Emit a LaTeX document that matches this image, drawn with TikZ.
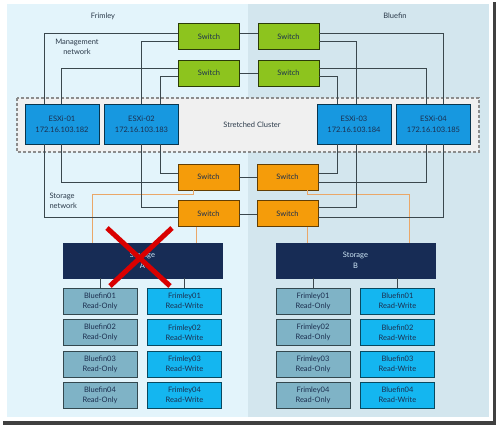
\documentclass[tikz,border=0pt]{standalone}
\usepackage{fontspec}
\setmainfont{Lato}
\usepackage{tikz}
\definecolor{frimleybg}{HTML}{E3F4FB}
\definecolor{bluefinbg}{HTML}{D3E6EE}
\definecolor{mgmtgreen}{HTML}{8DC41E}
\definecolor{esxblue}{HTML}{1798E0}
\definecolor{stororange}{HTML}{F59C0A}
\definecolor{stornavy}{HTML}{172C55}
\definecolor{lunro}{HTML}{7FB3C6}
\definecolor{lunrw}{HTML}{14B6F0}
\definecolor{wiregray}{HTML}{3A474D}
\definecolor{wireorange}{HTML}{EAA768}
\definecolor{labeltext}{HTML}{2B3A4A}
\definecolor{boxtext}{HTML}{1C2F4F}
\newcommand{\boxfont}[0]{\fontsize{7.5}{10}\selectfont}

\begin{document}
\begin{tikzpicture}[x=1pt, y=-1pt, font=\boxfont]
  \tikzset{box/.style={draw, line width=0.7pt, align=center, inner sep=0pt, text=boxtext},
    mgmtswitch/.style={box, fill=mgmtgreen, draw=black!70!mgmtgreen, minimum width=61pt, minimum height=26pt},
    storswitch/.style={box, fill=stororange, draw=black!60!stororange, minimum width=61pt, minimum height=26pt},
    host/.style={box, fill=esxblue, draw=black!65!esxblue, minimum width=74pt, minimum height=40pt, font=\fontsize{7.5}{11}\selectfont},
    array/.style={box, fill=stornavy, draw=stornavy, text=white!80!esxblue, minimum width=159pt, minimum height=35pt, font=\fontsize{7.5}{11}\selectfont},
    lunread/.style={box, fill=lunro, draw=black!60!lunro, minimum width=74pt, minimum height=26pt},
    lunwrite/.style={box, fill=lunrw, draw=black!60!lunrw, minimum width=74pt, minimum height=26pt},
    wire/.style={draw=wiregray, line width=0.8pt},
    orangewire/.style={draw=wireorange, line width=0.8pt},
    site/.style={text=labeltext, align=center}}
  \useasboundingbox (0,0) rectangle (499,427);
  \fill[white] (0,0) rectangle (499,427);
  \fill[black!75] (492.5,2) rectangle (496,425);
  \fill[black!75] (3,421.5) rectangle (496,425);
  \fill[frimleybg] (7,4) rectangle (248,417);
  \fill[bluefinbg] (248,4) rectangle (489,417);
  \node[site] (SITE-1) at (103,16) {Frimley};
  \node[site] (SITE-2) at (395,16) {Bluefin};
  \node[site] (NET-1) at (77,47) {Management\\network};
  \node[site, align=left, anchor=west] (NET-2) at (46,201) {Storage\\network};
  \draw[fill=black!6, draw=black!45, line width=1.1pt, dash pattern=on 3pt off 2pt] (17,98) rectangle (479,152);
  \node[text=labeltext] (CLUSTER) at (252,125) {Stretched Cluster};

  \node[mgmtswitch] (SW-1-1) at (209,36.5) {Switch};
  \node[mgmtswitch] (SW-1-2) at (288.5,36.5) {Switch};
  \node[mgmtswitch] (SW-2-1) at (209,73) {Switch};
  \node[mgmtswitch] (SW-2-2) at (288.5,73) {Switch};
  \node[host] (ESX-1) at (62,124) {ESXi-01\\172.16.103.182};
  \node[host] (ESX-2) at (141.5,124) {ESXi-02\\172.16.103.183};
  \node[host] (ESX-3) at (354,124) {ESXi-03\\172.16.103.184};
  \node[host] (ESX-4) at (433.5,124) {ESXi-04\\172.16.103.185};
  \node[storswitch] (SW-3-1) at (208.5,177) {Switch};
  \node[storswitch] (SW-3-2) at (287.5,177) {Switch};
  \node[storswitch] (SW-4-1) at (208.5,213.5) {Switch};
  \node[storswitch] (SW-4-2) at (287.5,213.5) {Switch};
  \node[array] (STOR-A) at (142.5,260.5) {Storage\\A};
  \node[array] (STOR-B) at (355.5,260.5) {Storage\\B};

  \node[lunread] (LUN-A-1-1) at (100,301) {Bluefin01\\Read-Only};
  \node[lunwrite] (LUN-A-1-2) at (184.5,301) {Frimley01\\Read-Write};
  \node[lunread] (LUN-A-2-1) at (100,332.5) {Bluefin02\\Read-Only};
  \node[lunwrite] (LUN-A-2-2) at (184.5,332.5) {Frimley02\\Read-Write};
  \node[lunread] (LUN-A-3-1) at (100,364) {Bluefin03\\Read-Only};
  \node[lunwrite] (LUN-A-3-2) at (184.5,364) {Frimley03\\Read-Write};
  \node[lunread] (LUN-A-4-1) at (100,395) {Bluefin04\\Read-Only};
  \node[lunwrite] (LUN-A-4-2) at (184.5,395) {Frimley04\\Read-Write};
  \node[lunread] (LUN-B-1-1) at (313,301) {Frimley01\\Read-Only};
  \node[lunwrite] (LUN-B-1-2) at (397.5,301) {Bluefin01\\Read-Write};
  \node[lunread] (LUN-B-2-1) at (313,332.5) {Frimley02\\Read-Only};
  \node[lunwrite] (LUN-B-2-2) at (397.5,332.5) {Bluefin02\\Read-Write};
  \node[lunread] (LUN-B-3-1) at (313,364) {Frimley03\\Read-Only};
  \node[lunwrite] (LUN-B-3-2) at (397.5,364) {Bluefin03\\Read-Write};
  \node[lunread] (LUN-B-4-1) at (313,395) {Frimley04\\Read-Only};
  \node[lunwrite] (LUN-B-4-2) at (397.5,395) {Bluefin04\\Read-Write};

  \draw[wire] ([yshift=3.5pt]SW-1-1.west) -| ([xshift=-18pt]ESX-1.north);
  \draw[wire] ([yshift=-4.5pt]SW-1-1.west) -| (ESX-2.north);
  \draw[wire] ([yshift=5pt]SW-2-1.west) -| ([xshift=-1pt]ESX-1.north);
  \draw[wire] ([yshift=-3pt]SW-2-1.west) -| ([xshift=18.5pt]ESX-2.north);
  \draw[wire] ([yshift=3.5pt]SW-1-2.east) -| ([xshift=9.5pt]ESX-4.north);
  \draw[wire] ([yshift=-4.5pt]SW-1-2.east) -| ([xshift=2pt]ESX-3.north);
  \draw[wire] ([yshift=5pt]SW-2-2.east) -| ([xshift=-7.5pt]ESX-4.north);
  \draw[wire] ([yshift=-3pt]SW-2-2.east) -| ([xshift=-17pt]ESX-3.north);
  \draw[wire] ([yshift=3.5pt]SW-1-1.east) -- ([yshift=3.5pt]SW-1-2.west);
  \draw[wire] (SW-2-1.east) -- (SW-2-2.west);

  \draw[orangewire] ([xshift=-15.5pt]SW-3-1.south) -- ++(0,4) -| ([xshift=-50.5pt]STOR-A.north);
  \draw[orangewire] ([xshift=-12.5pt]SW-4-1.south) -- ([xshift=-12.5pt]SW-4-1.south |- STOR-A.north);
  \draw[orangewire] ([xshift=19.5pt]SW-3-2.south) -- ++(0,4) -| ([xshift=53.5pt]STOR-B.north);
  \draw[orangewire] ([xshift=19.5pt]SW-4-2.south) -- ([xshift=19.5pt]SW-4-2.south |- STOR-B.north);

  \draw[wire] ([xshift=-18pt]ESX-1.south) |- ([yshift=-3.5pt]SW-4-1.west);
  \draw[wire] ([xshift=-1pt]ESX-1.south) |- ([yshift=-5pt]SW-3-1.west);
  \draw[wire] (ESX-2.south) |- ([yshift=6.5pt]SW-4-1.west);
  \draw[wire] ([xshift=18.5pt]ESX-2.south) |- ([yshift=4pt]SW-3-1.west);
  \draw[wire] ([xshift=-17pt]ESX-3.south) |- ([yshift=4pt]SW-3-2.east);
  \draw[wire] ([xshift=2pt]ESX-3.south) |- ([yshift=6.5pt]SW-4-2.east);
  \draw[wire] ([xshift=-7.5pt]ESX-4.south) |- ([yshift=-5pt]SW-3-2.east);
  \draw[wire] ([xshift=9.5pt]ESX-4.south) |- ([yshift=-3.5pt]SW-4-2.east);
  \draw[wire] (SW-3-1.east) -- (SW-3-2.west);
  \draw[wire] ([yshift=-1pt]SW-4-1.east) -- ([yshift=-1pt]SW-4-2.west);

  \draw[wire] (LUN-A-1-1.north) -- (LUN-A-1-1.north |- STOR-A.south);
  \draw[wire] (LUN-A-1-2.north) -- (LUN-A-1-2.north |- STOR-A.south);
  \draw[wire] (LUN-B-1-1.north) -- (LUN-B-1-1.north |- STOR-B.south);
  \draw[wire] (LUN-B-1-2.north) -- (LUN-B-1-2.north |- STOR-B.south);

  \draw[red!85!black, line width=5pt] (107,228) -- (170,286) (172,228) -- (110,286);
\end{tikzpicture}
\end{document}
